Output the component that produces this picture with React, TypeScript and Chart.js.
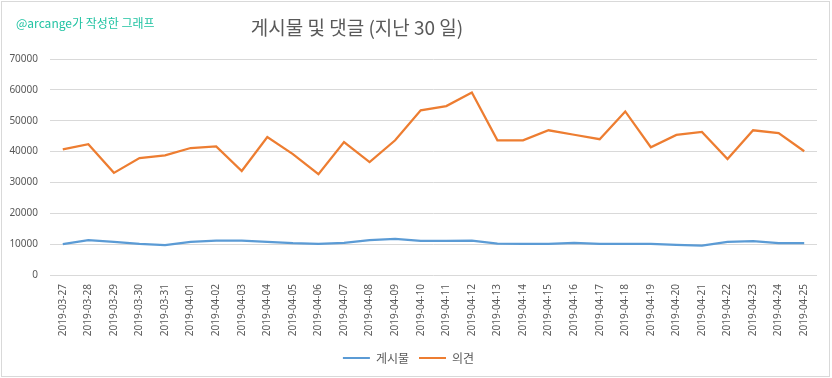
import React, { useEffect, useRef } from "react";
import { Chart, registerables } from "chart.js";

Chart.register(...registerables);

const categories = [
  "2019-03-27", "2019-03-28", "2019-03-29", "2019-03-30", "2019-03-31",
  "2019-04-01", "2019-04-02", "2019-04-03", "2019-04-04", "2019-04-05",
  "2019-04-06", "2019-04-07", "2019-04-08", "2019-04-09", "2019-04-10",
  "2019-04-11", "2019-04-12", "2019-04-13", "2019-04-14", "2019-04-15",
  "2019-04-16", "2019-04-17", "2019-04-18", "2019-04-19", "2019-04-20",
  "2019-04-21", "2019-04-22", "2019-04-23", "2019-04-24", "2019-04-25",
];

const posts = [
  10000, 11300, 10700, 10100, 9700, 10700, 11100, 11100, 10700, 10300,
  10100, 10400, 11300, 11700, 11050, 11050, 11100, 10200, 10100, 10100,
  10400, 10100, 10100, 10100, 9800, 9500, 10700, 11000, 10300, 10300,
];

const comments = [
  40700, 42400, 33100, 37900, 38800, 41150, 41700, 33700, 44700, 39200,
  32650, 43100, 36600, 43650, 53350, 54750, 59150, 43650, 43650, 46900,
  45450, 44000, 53000, 41400, 45400, 46350, 37600, 46900, 46000, 40100,
];

const yTicks = { min: 0, max: 70000, step: 10000 };

const chartTitle = "게시물 및 댓글 (지난 30 일)";
const watermark = "@arcange가 작성한 그래프";
const seriesNames = ["게시물", "의견"];

const FONT = '"Noto Sans", "Noto Sans CJK KR", sans-serif';
const KFONT = '"Noto Sans CJK KR", "Noto Sans", sans-serif';

const decorPlugin = {
  id: "decor",
  beforeDraw(chart: any) {
    const ctx = chart.ctx;
    ctx.save();
    ctx.fillStyle = "#ffffff";
    ctx.fillRect(0, 0, chart.width, chart.height);
    ctx.strokeStyle = "#d9d9d9";
    ctx.lineWidth = 1;
    ctx.strokeRect(1.5, 1.5, chart.width - 4, chart.height - 3);
    ctx.restore();
  },
  afterDraw(chart: any) {
    const ctx = chart.ctx;
    ctx.save();
    ctx.textBaseline = "middle";
    ctx.fillStyle = "#22c3a3";
    ctx.font = "12px " + KFONT;
    ctx.textAlign = "left";
    ctx.fillText(watermark, 16, 23);
    ctx.fillStyle = "#595959";
    ctx.font = "19px " + KFONT;
    ctx.textAlign = "center";
    ctx.fillText(chartTitle, 357, 28);
    ctx.restore();
  },
};

export default function App() {
  const ref = useRef<HTMLCanvasElement>(null);

  useEffect(() => {
    document.body.style.margin = "0";
    const canvas = ref.current!;
    const chart = new Chart(canvas, {
      type: "line",
      data: {
        labels: categories,
        datasets: [
          {
            label: seriesNames[0],
            data: posts,
            borderColor: "#5b9bd5",
            backgroundColor: "#5b9bd5",
            borderWidth: 2.25,
            pointRadius: 0,
            tension: 0,
          },
          {
            label: seriesNames[1],
            data: comments,
            borderColor: "#ed7d31",
            backgroundColor: "#ed7d31",
            borderWidth: 2.25,
            pointRadius: 0,
            tension: 0,
          },
        ],
      },
      options: {
        animation: false,
        responsive: false,
        maintainAspectRatio: false,
        layout: { padding: { top: 59, left: 0, right: 15, bottom: 4 } },
        plugins: {
          title: { display: false },
          tooltip: { enabled: false },
          legend: {
            position: "bottom",
            labels: {
              boxWidth: 27,
              boxHeight: 2,
              padding: 10,
              color: "#595959",
              font: { family: KFONT, size: 12 },
              generateLabels: (c: any) =>
                (Chart.defaults.plugins.legend.labels as any)
                  .generateLabels(c)
                  .map((l: any) => ({ ...l, lineWidth: 0 })),
            },
          },
        },
        scales: {
          x: {
            offset: true,
            grid: { display: false, drawTicks: false },
            border: { display: false },
            ticks: {
              minRotation: 90,
              maxRotation: 90,
              autoSkip: false,
              padding: 9,
              color: "#595959",
              font: { family: FONT, size: 10 },
            },
            afterFit: (s: any) => {
              s.height = 67;
            },
          },
          y: {
            min: yTicks.min,
            max: yTicks.max,
            grid: { color: "#d9d9d9", drawTicks: false, lineWidth: 1 },
            border: { display: false },
            ticks: {
              stepSize: yTicks.step,
              padding: 12,
              color: "#595959",
              font: { family: FONT, size: 10 },
              callback: (v: any) => String(v),
            },
            afterFit: (s: any) => {
              s.width = 50;
            },
          },
        },
      },
      plugins: [decorPlugin],
    });
    return () => chart.destroy();
  }, []);

  return (
    <div style={{ width: 832, height: 378, position: "relative" }}>
      <canvas ref={ref} width={832} height={378} style={{ display: "block", width: 832, height: 378 }} />
    </div>
  );
}
